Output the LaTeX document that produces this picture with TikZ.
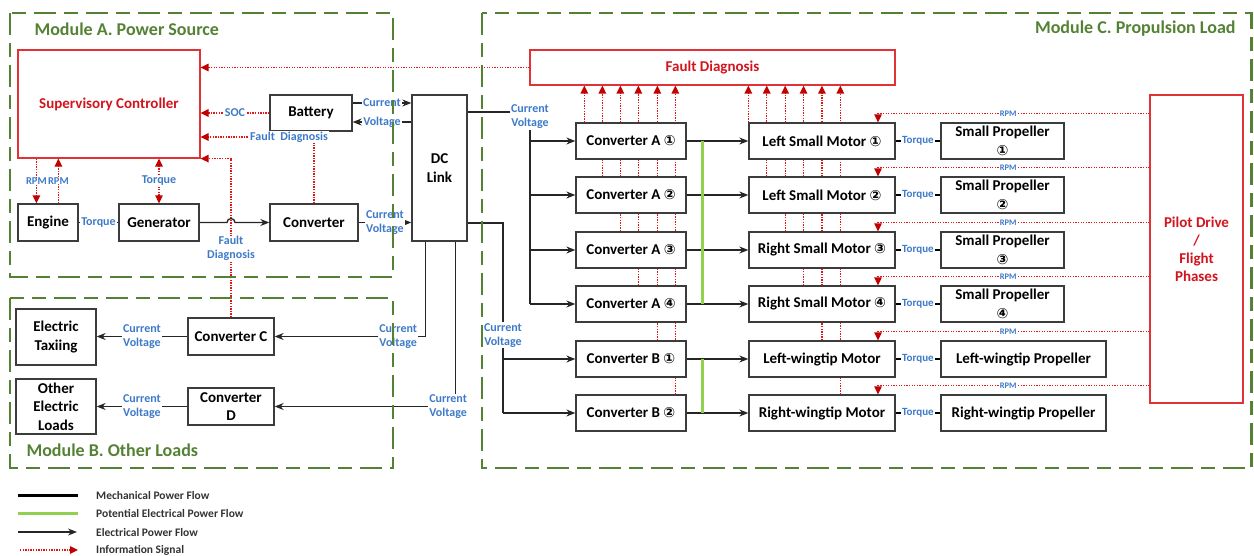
\documentclass[tikz,border=0pt]{standalone}
\usepackage{fontspec}
\setmainfont{Carlito}
\newfontfamily\symfont{DejaVu Sans}
\usetikzlibrary{arrows.meta,backgrounds,calc}
\definecolor{modgreen}{RGB}{84,130,53}
\definecolor{lgreen}{RGB}{146,208,80}
\definecolor{lblue}{RGB}{62,122,200}
\definecolor{redtext}{RGB}{210,20,30}
\definecolor{redborder}{RGB}{225,50,55}
\definecolor{sigred}{RGB}{230,20,20}
\definecolor{arrowred}{RGB}{195,0,0}
\definecolor{boxgray}{RGB}{60,60,60}
\newcommand{\circnum}[1]{{\symfont\fontsize{14}{17}\selectfont #1}}
\begin{document}
\begin{tikzpicture}[x=1pt,y=-1pt,
  >={Triangle[length=8pt,width=7.5pt,color=arrowred]},
  box/.style={draw=boxgray, line width=1.3pt, fill=white, text=black, font=\bfseries\fontsize{15}{18.5}\selectfont, align=center, inner sep=0pt},
  redbox/.style={draw=redborder, line width=1.2pt, fill=white, text=redtext, font=\bfseries\fontsize{15}{18}\selectfont, align=center, inner sep=0pt},
  sig/.style={draw=sigred, line width=1.3pt, dash pattern=on 1.3pt off 1.3pt, ->},
  wire/.style={draw=black!85, line width=1.3pt},
  elec/.style={wire, -{Stealth[length=9pt,width=7pt]}},
  mech/.style={draw=black, line width=2.2pt},
  pline/.style={draw=lgreen, line width=2.6pt},
  lbl/.style={text=lblue, font=\bfseries\fontsize{12}{14}\selectfont, fill=white, inner sep=1pt, align=center},
  tq/.style={text=lblue, font=\bfseries\fontsize{11}{12}\selectfont, fill=white, inner sep=1pt},
  rpm/.style={text=lblue, font=\bfseries\fontsize{8.5}{10}\selectfont, fill=white, inner sep=1pt},
  modtitle/.style={text=modgreen, font=\bfseries\fontsize{18}{20}\selectfont},
  legtxt/.style={anchor=west, text=black!80, font=\bfseries\fontsize{11.5}{13}\selectfont, inner sep=0pt},
  module/.style={draw=modgreen, line width=2.4pt, dash pattern=on 22pt off 8pt on 14pt off 8pt}
]
\useasboundingbox (0,0) rectangle (1254,555);

% ---------- Module A nodes ----------
\node[redbox, minimum width=182pt, minimum height=108pt] (sc) at (109,104) {Supervisory Controller};
\node[box, minimum width=82pt, minimum height=36pt] (bat) at (311,113) {Battery};
\node[box, minimum width=60pt, minimum height=37pt] (eng) at (48,222.5) {Engine};
\node[box, minimum width=80pt, minimum height=37pt] (gen) at (159,222.5) {Generator};
\node[box, minimum width=88pt, minimum height=37pt] (conv) at (314,222.5) {Converter};
\node[box, minimum width=55pt, minimum height=146pt] (dc) at (439.5,168) {DC\\Link};

% ---------- Module B nodes ----------
\node[box, minimum width=80pt, minimum height=56pt] (taxi) at (56,337) {Electric\\Taxiing};
\node[box, minimum width=80pt, minimum height=55pt] (oel) at (56,406.5) {Other\\Electric\\Loads};
\node[box, minimum width=86pt, minimum height=37pt] (cc) at (231,336.5) {Converter C};
\node[box, minimum width=86pt, minimum height=37pt] (cd) at (231,406.5) {Converter\\D};

% ---------- Module C nodes ----------
\node[redbox, minimum width=365pt, minimum height=35pt] (fd) at (712.5,67.5) {Fault Diagnosis};
\node[redbox, minimum width=93pt, minimum height=308pt] (pd) at (1196.5,249) {Pilot Drive\\/\\Flight\\Phases};

\node[box, minimum width=110pt, minimum height=36pt] (ca1) at (631,141) {Converter A \circnum{①}};
\node[box, minimum width=110pt, minimum height=36pt] (ca2) at (631,195) {Converter A \circnum{②}};
\node[box, minimum width=110pt, minimum height=36pt] (ca3) at (631,250) {Converter A \circnum{③}};
\node[box, minimum width=110pt, minimum height=36pt] (ca4) at (631,304) {Converter A \circnum{④}};
\node[box, minimum width=110pt, minimum height=36pt] (cb1) at (631,359) {Converter B \circnum{①}};
\node[box, minimum width=110pt, minimum height=36pt] (cb2) at (631,413) {Converter B \circnum{②}};

\node[box, minimum width=146pt, minimum height=36pt] (m1) at (822,141) {Left Small Motor \circnum{①}};
\node[box, minimum width=146pt, minimum height=36pt] (m2) at (822,195) {Left Small Motor \circnum{②}};
\node[box, minimum width=146pt, minimum height=36pt] (m3) at (822,250) {Right Small Motor \circnum{③}};
\node[box, minimum width=146pt, minimum height=36pt] (m4) at (822,304) {Right Small Motor \circnum{④}};
\node[box, minimum width=146pt, minimum height=36pt] (m5) at (822,359) {Left-wingtip Motor};
\node[box, minimum width=146pt, minimum height=36pt] (m6) at (822,413) {Right-wingtip Motor};

\node[box, minimum width=123pt, minimum height=36pt] (p1) at (1002.5,141) {Small Propeller\\\circnum{①}};
\node[box, minimum width=123pt, minimum height=36pt] (p2) at (1002.5,195) {Small Propeller\\\circnum{②}};
\node[box, minimum width=123pt, minimum height=36pt] (p3) at (1002.5,250) {Small Propeller\\\circnum{③}};
\node[box, minimum width=123pt, minimum height=36pt] (p4) at (1002.5,304) {Small Propeller\\\circnum{④}};
\node[box, minimum width=165pt, minimum height=36pt] (p5) at (1023.5,359) {Left-wingtip Propeller};
\node[box, minimum width=165pt, minimum height=36pt] (p6) at (1023.5,413) {Right-wingtip Propeller};

% ---------- Fault diagnosis signals (behind boxes) ----------
\begin{scope}[on background layer]
\foreach \n/\dx in {ca1/9, ca2/27, ca3/45, ca4/63, cb1/82, cb2/100}{
  \coordinate (t) at ([xshift=\dx pt]\n.north west);
  \draw[sig] (t) -- (t |- fd.south);
}
\foreach \n/\dx in {m1/0, m2/18.4, m3/36.8, m4/55.2, m5/73.6, m6/92}{
  \coordinate (t) at ([xshift=\dx pt]\n.north west);
  \draw[sig] (t) -- (t |- fd.south);
}
\end{scope}

% ---------- Module A signals ----------
\draw[sig] (fd.west) -- (sc.east |- fd.west);
\draw[sig] (bat.west) -- (sc.east |- bat.west) node[lbl, midway]{SOC};
\draw[sig] (conv.north) |- (sc.east |- 0,137) node[lbl, pos=0.61]{Fault\ \ Diagnosis};
\draw[sig] (cc.north) |- (sc.south east) node[lbl, pos=0.216]{Fault\\Diagnosis};
\coordinate (r1) at ([xshift=19pt]sc.south west);
\coordinate (r2) at ([xshift=41pt]sc.south west);
\draw[sig] (r1) -- (r1 |- eng.north) node[lbl, midway, inner sep=0pt, font=\bfseries\fontsize{10.5}{12}\selectfont]{RPM};
\draw[sig] (r2 |- eng.north) -- (r2) node[lbl, midway, inner sep=0pt, font=\bfseries\fontsize{10.5}{12}\selectfont]{RPM};
\draw[sig, <->] (gen.north) -- (gen.north |- sc.south) node[lbl, midway]{Torque};

% ---------- Module A power ----------
\draw[wire] (eng.east) -- (gen.west) node[lbl, midway]{Torque};
\coordinate (hump) at (gen.east -| cc.north);
\draw[elec] (gen.east) -- ([xshift=-4pt]hump) arc[start angle=180, end angle=0, radius=4pt] -- (conv.west);
\draw[elec] (conv.east) -- (conv.east -| dc.west) node[lbl, midway]{Current\\Voltage};
\coordinate (bc) at ([yshift=10pt]bat.east);
\coordinate (bv) at ([yshift=-9pt]bat.east);
\draw[elec] (bc) -- (bc -| dc.west) node[lbl, midway]{Current};
\draw[elec] (bv -| dc.west) -- (bv) node[lbl, midway]{Voltage};

% ---------- Module B power ----------
\coordinate (dcc) at ([xshift=14pt]dc.south west);
\coordinate (dcd) at ([xshift=44pt]dc.south west);
\draw[elec] (dcc) |- (cc.east) node[lbl, pos=0.59]{Current\\Voltage};
\draw[elec] (dcd) |- (cd.east) node[lbl, pos=0.52]{Current\\Voltage};
\draw[elec] (cc.west) -- (cc.west -| taxi.east) node[lbl, midway]{Current\\Voltage};
\draw[elec] (cd.west) -- (cd.west -| oel.east) node[lbl, midway]{Current\\Voltage};

% ---------- Module C power ----------
\coordinate (busA) at (530,112);
\draw[wire] (dc.east |- busA) -- (busA) node[lbl, yshift=-5pt]{Current\\Voltage} -- (busA |- ca4.west);
\foreach \n in {ca1,ca2,ca3,ca4}{ \draw[elec] (busA |- \n.west) -- (\n.west); }
\coordinate (busB) at (503,223);
\draw[wire] (dc.east |- busB) -- (busB) -- node[lbl, pos=0.59]{Current\\Voltage} (busB |- cb2.west);
\foreach \n in {cb1,cb2}{ \draw[elec] (busB |- \n.west) -- (\n.west); }
\foreach \c/\m in {ca1/m1, ca2/m2, ca3/m3, ca4/m4, cb1/m5, cb2/m6}{ \draw[elec] (\c.east) -- (\m.west); }
\draw[pline] ([xshift=16pt]ca1.east) -- ([xshift=16pt]ca4.east);
\draw[pline] ([xshift=16pt]cb1.east) -- ([xshift=16pt]cb2.east);
\foreach \m/\p in {m1/p1, m2/p2, m3/p3, m4/p4, m5/p5, m6/p6}{ \draw[mech] (\m.east) -- (\p.west) node[tq, midway]{Torque}; }

% ---------- RPM signals ----------
\foreach \m in {m1,m2,m3,m4,m5,m6}{
  \coordinate (t) at ([xshift=56pt,yshift=9pt]\m.north);
  \draw[sig] (pd.west |- t) -- node[rpm, pos=0.52]{RPM} (t) -- ([xshift=56pt]\m.north);
}

% ---------- Legend ----------
\coordinate (la1) at (18,495); \coordinate (lb1) at (78,495);
\coordinate (la2) at (18,513); \coordinate (lb2) at (78,513);
\coordinate (la3) at (18,532); \coordinate (lb3) at (77,532);
\coordinate (la4) at (20,550); \coordinate (lb4) at (78,550);
\draw[draw=black, line width=3pt] (la1) -- (lb1);
\draw[pline, line width=3pt] (la2) -- (lb2);
\draw[elec] (la3) -- (lb3);
\draw[sig] (la4) -- (lb4);
\node[legtxt] (lt1) at (96,495) {Mechanical Power Flow};
\node[legtxt] (lt2) at (96,513) {Potential Electrical Power Flow};
\node[legtxt] (lt3) at (96,532) {Electrical Power Flow};
\node[legtxt] (lt4) at (96,550) {Information Signal};

% ---------- Modules ----------
\draw[module] (10,13) rectangle (393,277);
\draw[module] (10,298) rectangle (393,468);
\draw[module] (482,13) rectangle (1251.5,468);
\node[modtitle, anchor=west] (ta) at (31,29) {Module A. Power Source};
\node[modtitle, anchor=west] (tb) at (23,450) {Module B. Other Loads};
\node[modtitle, anchor=east] (tc) at (1239,29) {Module C. Propulsion Load};
\end{tikzpicture}
\end{document}
